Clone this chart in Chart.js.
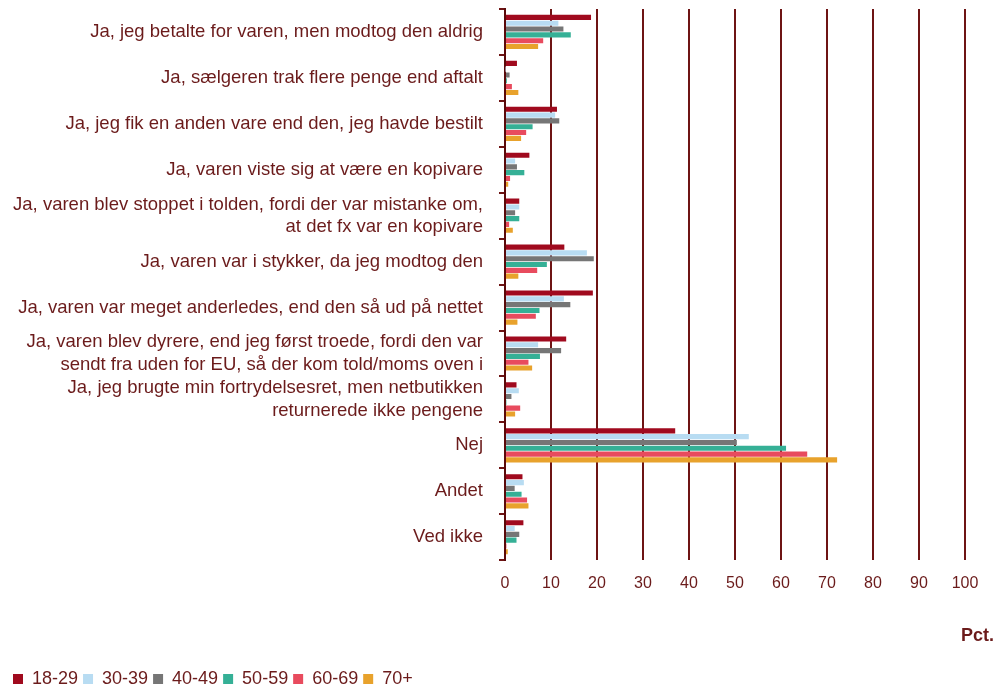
<!DOCTYPE html>
<html>
<head>
<meta charset="utf-8">
<script src="https://cdn.jsdelivr.net/npm/chart.js@4.4.1/dist/chart.umd.min.js"></script>
<style>
  html, body { margin: 0; padding: 0; background: #fff; }
  #wrap { width: 995px; height: 687px; position: relative; }
</style>
</head>
<body>
<div id="wrap"><canvas id="chart"></canvas></div>
<script>
const categories = [
  "Ja, jeg betalte for varen, men modtog den aldrig",
  "Ja, sælgeren trak flere penge end aftalt",
  "Ja, jeg fik en anden vare end den, jeg havde bestilt",
  "Ja, varen viste sig at være en kopivare",
  ["Ja, varen blev stoppet i tolden, fordi der var mistanke om,", "at det fx var en kopivare"],
  "Ja, varen var i stykker, da jeg modtog den",
  "Ja, varen var meget anderledes, end den så ud på nettet",
  ["Ja, varen blev dyrere, end jeg først troede, fordi den var", "sendt fra uden for EU, så der kom told/moms oven i"],
  ["Ja, jeg brugte min fortrydelsesret, men netbutikken", "returnerede ikke pengene"],
  "Nej",
  "Andet",
  "Ved ikke"
];

const ageGroups = ["18-29", "30-39", "40-49", "50-59", "60-69", "70+"];

const age18_29 = [18.7, 2.6, 11.3, 5.3, 3.1, 12.9, 19.1, 13.3, 2.5, 37.0, 3.8, 4.0];
const age30_39 = [11.6, 0.1, 10.9, 2.2, 3.1, 17.8, 12.8, 7.2, 3.0, 53.0, 4.1, 2.1];
const age40_49 = [12.7, 1.0, 11.8, 2.6, 2.2, 19.3, 14.2, 12.2, 1.4, 50.4, 2.1, 3.1];
const age50_59 = [14.3, 0.4, 6.0, 4.2, 3.1, 9.1, 7.5, 7.6, 0.3, 61.1, 3.6, 2.5];
const age60_69 = [8.3, 1.5, 4.6, 1.1, 0.9, 7.0, 6.7, 5.1, 3.3, 65.7, 4.8, 0.3];
const age70plus = [7.2, 2.9, 3.5, 0.7, 1.7, 2.9, 2.7, 5.9, 2.2, 72.2, 5.1, 0.6];

const xTicks = [0, 10, 20, 30, 40, 50, 60, 70, 80, 90, 100];

const colors = ["#a00a1e", "#b8dcf2", "#767676", "#35b096", "#e84b5e", "#e8a22c"];
const textColor = "#6b1b1b";
const lineColor = "#6e1414";
const fontFamily = "'Liberation Sans', Arial, sans-serif";

const seriesValues = [age18_29, age30_39, age40_49, age50_59, age60_69, age70plus];

new Chart(document.getElementById("chart"), {
  type: "bar",
  data: {
    labels: categories,
    datasets: ageGroups.map((g, i) => ({
      label: g,
      data: seriesValues[i],
      backgroundColor: colors[i],
      borderWidth: 0,
      categoryPercentage: 0.76,
      barPercentage: 0.88
    }))
  },
  options: {
    indexAxis: "y",
    responsive: true,
    maintainAspectRatio: false,
    animation: false,
    layout: { padding: { top: 9, left: 8, right: 1, bottom: -11 } },
    plugins: {
      tooltip: { enabled: false },
      legend: {
        position: "bottom",
        align: "start",
        weight: 1000,
        labels: {
          color: textColor,
          boxWidth: 10,
          boxHeight: 10,
          padding: 5,
          font: { family: fontFamily, size: 18 }
        }
      },
      title: {
        display: true,
        text: "Pct.",
        position: "bottom",
        align: "end",
        weight: 500,
        color: textColor,
        padding: { top: 18, bottom: 18 },
        font: { family: fontFamily, size: 18, weight: "bold" }
      }
    },
    scales: {
      x: {
        min: 0,
        max: 100,
        afterBuildTicks: s => { s.ticks = xTicks.map(v => ({ value: v })); },
        grid: { color: lineColor, lineWidth: 2, drawTicks: false },
        border: { display: false },
        ticks: {
          color: textColor,
          padding: 14,
          font: { family: fontFamily, size: 16 }
        }
      },
      y: {
        afterFit: s => { s.width = 497; s.paddingTop = 0; s.paddingBottom = 0; },
        grid: { drawOnChartArea: false, color: lineColor, lineWidth: 2, tickLength: 6 },
        border: { display: true, color: "#5a0a0a", width: 2 },
        ticks: {
          autoSkip: false,
          color: textColor,
          padding: 16,
          font: { family: fontFamily, size: 18.5, lineHeight: 1.2 }
        }
      },
      yRight: {
        type: "linear",
        position: "right",
        afterFit: s => { s.width = 29; },
        grid: { display: false },
        border: { display: false },
        ticks: { display: false }
      }
    }
  }
});
</script>
</body>
</html>
